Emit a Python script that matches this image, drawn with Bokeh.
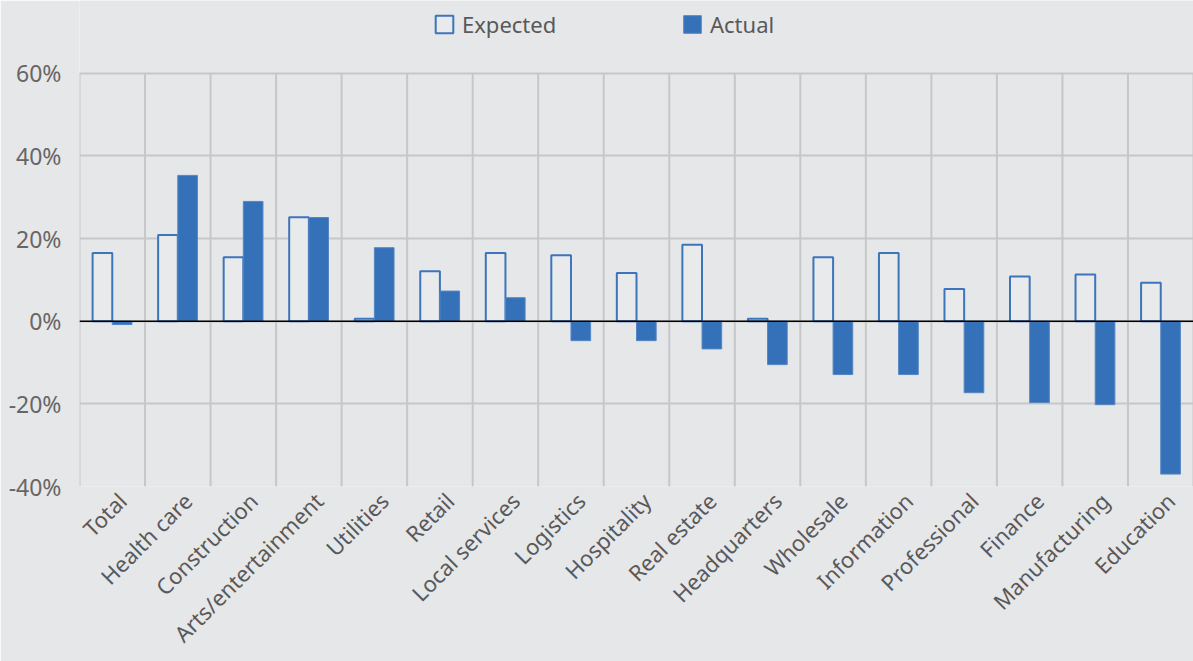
from bokeh.plotting import figure
from bokeh.models import (ColumnDataSource, Range1d, FixedTicker, PrintfTickFormatter,
                          Span, Legend, LegendItem)
from bokeh.embed import file_html
from bokeh.resources import INLINE

# Employment change by sector, expected vs actual (percent)
sectors = ["Total", "Health care", "Construction", "Arts/entertainment", "Utilities",
           "Retail", "Local services", "Logistics", "Hospitality", "Real estate",
           "Headquarters", "Wholesale", "Information", "Professional", "Finance",
           "Manufacturing", "Education"]
expected = [16.5, 20.9, 15.5, 25.2, 0.6, 12.1, 16.5, 16.0, 11.7, 18.5,
            0.6, 15.5, 16.5, 7.8, 10.8, 11.3, 9.3]
actual = [-0.8, 35.3, 29.0, 25.1, 17.8, 7.3, 5.7, -4.7, -4.7, -6.7,
          -10.5, -12.9, -12.9, -17.3, -19.7, -20.2, -37.0]
y_ticks = [-40, -20, 0, 20, 40, 60]

BG = "#e6e7e9"
BLUE = "#3571b8"
EXP_FILL = "#e9eaec"
EXP_LINE = "#3d74bb"
GRID = "#c6c7c9"
FONT = "Noto Sans"

W, H = 1193, 661
LEFT, BOTTOM = 79, 174          # space for the axes
Y_MIN, Y_MAX = -40, 60          # value range covered by the grid
HEADER = 73                     # room above the grid for the key

n = len(sectors)
centers = [i + 0.5 for i in range(n)]
bar_w = 0.3

# the frame reaches the top of the canvas; extend the y range so the
# -40..60 grid keeps its height and the key sits above it
grid_px = H - BOTTOM - HEADER
y_top = Y_MAX + HEADER * (Y_MAX - Y_MIN) / grid_px

src = ColumnDataSource(dict(
    x_exp=[c - bar_w / 2 for c in centers],
    x_act=[c + bar_w / 2 for c in centers],
    expected=expected,
    actual=actual,
))
bounds = list(range(n + 1))
sep = ColumnDataSource(dict(x=bounds, y0=[Y_MIN] * len(bounds), y1=[Y_MAX] * len(bounds)))

p = figure(width=W, height=H, output_backend="svg", toolbar_location=None,
           x_range=Range1d(0, n), y_range=Range1d(Y_MIN, y_top),
           min_border_left=LEFT, min_border_right=0, min_border_top=0,
           min_border_bottom=BOTTOM)
p.background_fill_color = BG
p.border_fill_color = BG
p.outline_line_color = None

# vertical separators between sector groups, limited to the grid's height
p.segment(x0="x", y0="y0", x1="x", y1="y1", source=sep, line_color=GRID, line_width=2)
p.xgrid.visible = False

r_exp = p.vbar(x="x_exp", top="expected", bottom=0, width=bar_w, source=src,
               fill_color=EXP_FILL, line_color=EXP_LINE, line_width=2)
r_act = p.vbar(x="x_act", top="actual", bottom=0, width=bar_w, source=src,
               fill_color=BLUE, line_color="#5586c3", line_width=1)

p.add_layout(Span(location=0, dimension="width", line_color="black", line_width=1.5))

p.ygrid.ticker = FixedTicker(ticks=y_ticks)
p.ygrid.grid_line_color = GRID
p.ygrid.grid_line_width = 2

p.yaxis.ticker = FixedTicker(ticks=y_ticks)
p.yaxis.formatter = PrintfTickFormatter(format="%d%%")
p.yaxis.axis_line_color = None
p.yaxis.major_tick_line_color = None
p.yaxis.minor_tick_line_color = None
p.yaxis.major_label_standoff = 12
p.yaxis.major_label_text_font = FONT
p.yaxis.major_label_text_font_size = "23px"
p.yaxis.major_label_text_color = "#666666"

# category labels, slanted, their ends a little right of each group's centre
label_pos = [c + 0.15 for c in centers]
p.xaxis.ticker = FixedTicker(ticks=label_pos)
p.xaxis.major_label_overrides = {c: s for c, s in zip(label_pos, sectors)}
p.xaxis.major_label_orientation = 0.785398
p.xaxis.axis_line_color = None
p.xaxis.major_tick_line_color = None
p.xaxis.minor_tick_line_color = None
p.xaxis.major_label_standoff = 4
p.xaxis.major_label_text_font = FONT
p.xaxis.major_label_text_font_size = "22px"
p.xaxis.major_label_text_color = "#595959"


def make_legend(label, renderer, x):
    return Legend(items=[LegendItem(label=label, renderers=[renderer])],
                  location=(x, grid_px + HEADER - 40), orientation="horizontal",
                  glyph_width=22, glyph_height=22, label_height=22,
                  label_standoff=7, padding=0, margin=0, border_line_color=None,
                  background_fill_alpha=0, label_text_font=FONT,
                  label_text_font_size="22px", label_text_color="#595959")


p.add_layout(make_legend("Expected", r_exp, 433 - LEFT))
p.add_layout(make_legend("Actual", r_act, 681 - LEFT))

open("out.html", "w").write(file_html(p, INLINE))
